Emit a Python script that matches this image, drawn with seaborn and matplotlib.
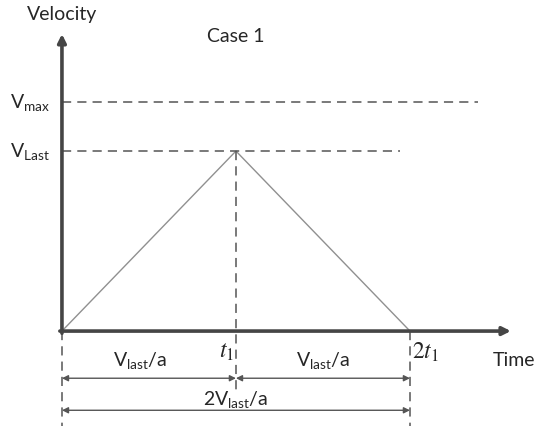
import matplotlib
matplotlib.use("Agg")
import matplotlib.pyplot as plt
import seaborn as sns
import pandas as pd

# velocity profile, case 1: accelerate to v_last, then decelerate
time = [0, 1, 2]          # 0, t1, 2t1
velocity = [0, 1, 0]      # 0, v_last, 0
v_last = 1.0
v_max = 1.27
tick_labels = [r"$t_{\mathit{1}}$", r"$2t_{\mathit{1}}$"]
span_labels = [r"V$_{\mathrm{last}}$/a", r"V$_{\mathrm{last}}$/a"]
total_label = r"2V$_{\mathrm{last}}$/a"

sns.set_style("white")
plt.rcParams['font.family'] = ['Lato', 'DejaVu Sans']
plt.rcParams['mathtext.fontset'] = 'custom'
plt.rcParams['mathtext.rm'] = 'Lato'
plt.rcParams['mathtext.it'] = 'Lato:italic'

fig = plt.figure(figsize=(5.41, 4.29), dpi=100)
ax = fig.add_axes([0, 0, 1, 1])
ax.set_xlim(-0.356, 2.753)
ax.set_ylim(-0.544, 1.839)
ax.axis('off')

axis_col = '#454545'
dash_col = '#555555'

df = pd.DataFrame({'time': time, 'velocity': velocity})
sns.lineplot(data=df, x='time', y='velocity', color='#909090', lw=1, ax=ax)

# axes with arrows
ax.annotate('', xy=(0, 1.65), xytext=(0, -0.012),
            arrowprops=dict(arrowstyle='-|>', color=axis_col, lw=2.6,
                            mutation_scale=12, shrinkA=0, shrinkB=0))
ax.annotate('', xy=(2.58, 0), xytext=(-0.012, 0),
            arrowprops=dict(arrowstyle='-|>', color=axis_col, lw=2.6,
                            mutation_scale=12, shrinkA=0, shrinkB=0))

# reference levels
dash = (0, (6, 4))
ax.plot([0, 2.39], [v_max, v_max], ls=dash, color=dash_col, lw=1.1)
ax.plot([0, 1.94], [v_last, v_last], ls=dash, color=dash_col, lw=1.1)

# vertical guides
ax.plot([time[0], time[0]], [0, -0.53], ls=dash, color=dash_col, lw=1.1)
ax.plot([time[1], time[1]], [v_last, -0.34], ls=dash, color=dash_col, lw=1.1)
ax.plot([time[2], time[2]], [0, -0.53], ls=dash, color=dash_col, lw=1.1)

# level labels
ax.text(-0.3, v_max, r"V$_{\mathrm{max}}$", fontsize=14, va='center', ha='left')
ax.text(-0.3, v_last, r"V$_{\mathrm{Last}}$", fontsize=14, va='center', ha='left')

ax.text(0, 1.76, "Velocity", fontsize=14, ha='center', va='center')
ax.text(1.0, 1.635, "Case 1", fontsize=14, ha='center', va='center')
ax.text(2.475, -0.165, "Time", fontsize=14, ha='left', va='center')

# time ticks
ax.text(time[1] - 0.01, -0.12, tick_labels[0], fontsize=17, ha='right',
        va='center', math_fontfamily='stix')
ax.text(time[2] + 0.01, -0.12, tick_labels[1], fontsize=17, ha='left',
        va='center', math_fontfamily='stix')

# span labels and arrows
ax.text(0.45, -0.165, span_labels[0], fontsize=14, ha='center', va='center')
ax.text((time[1] + time[2]) / 2, -0.165, span_labels[1], fontsize=14,
        ha='center', va='center')
arrow_kw = dict(arrowstyle='<|-|>', color=dash_col, lw=1.0,
                mutation_scale=9, shrinkA=0, shrinkB=0)
ax.annotate('', xy=(time[1], -0.262), xytext=(time[0], -0.262), arrowprops=arrow_kw)
ax.annotate('', xy=(time[2], -0.262), xytext=(time[1], -0.262), arrowprops=arrow_kw)
ax.text(time[1], -0.38, total_label, fontsize=14, ha='center', va='center')
ax.annotate('', xy=(time[2], -0.44), xytext=(time[0], -0.44), arrowprops=arrow_kw)

fig.savefig('out.png', dpi=100)
